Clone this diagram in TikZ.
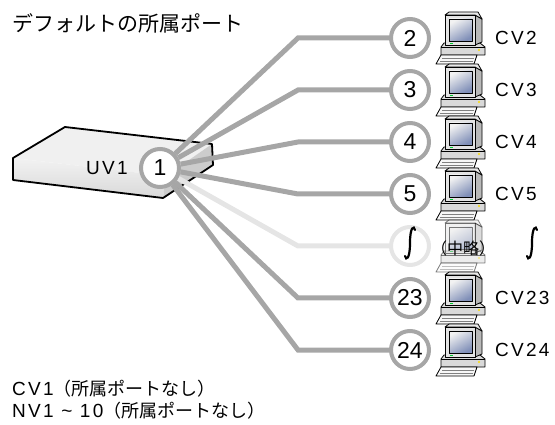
\documentclass[tikz,border=0pt]{standalone}
\usepackage{fontspec}
\setmainfont{Liberation Sans}
\newfontfamily\jpfont{Noto Sans CJK JP}
\newfontfamily\spfont[LetterSpace=12]{Liberation Sans}

\definecolor{porta}{rgb}{0.65,0.65,0.65}
\definecolor{portb}{rgb}{0.9,0.9,0.9}
\definecolor{scrn}{rgb}{0.5,0.56,0.72}

\pgfdeclarelayer{box}
\pgfdeclarelayer{wire}
\pgfsetlayers{box,wire,main}

% computer icon, #2 = row
\newcommand\pcicon[2][]{%
\begin{scope}[shift={(460,#2)}, #1, line width=0.8pt, line join=round]
  \filldraw[fill=gray!30] (-16,5) -- (20,5) -- (25,9) -- (25,17) -- (-19,17) -- (-19,9) -- cycle;
  \draw (-19,9) -- (25,9);
  \fill[yellow!80!orange] (19,12) circle (1.2pt);
  \filldraw[fill=gray!55] (15,-23) -- (22,-19) -- (22,4) -- (15,7) -- cycle;
  \filldraw[fill=gray!18] (-15,-23) -- (-11,-26) -- (18,-26) -- (22,-19) -- (15,-23) -- cycle;
  \filldraw[fill=gray!22] (-15,-23) rectangle (15,7);
  \shade[top color=gray!10, bottom color=scrn, shading angle=30] (-11,-19) rectangle (12,3);
  \draw[line width=0.4pt] (-11,-19) rectangle (12,3);
  \fill[green!60!teal] (-10,5) rectangle (-7,6);
  \filldraw[fill=gray!6] (-19,17) -- (17,17) -- (14,26) -- (-24,26) -- cycle;
  \draw[gray, line width=0.5pt] (-18,20) -- (14,20) (-20,23) -- (13,23);
\end{scope}}

\begin{document}
\begin{tikzpicture}[x=1pt, y=-1pt,
    port/.style={circle, draw=porta, line width=4pt, fill=white, minimum size=38pt, inner sep=0pt, font=\fontsize{23}{23}\selectfont},
    cable/.style={draw=porta, line width=5pt},
    cvlbl/.style={anchor=west, inner sep=0pt, font=\spfont\fontsize{19}{19}\selectfont},
    jptext/.style={anchor=west, inner sep=0pt, font=\fontsize{19}{19}\selectfont},
    wiggle/.style={line width=2.2pt, line cap=round}]
  \useasboundingbox (0,0) rectangle (555,425);

  \node[anchor=west, inner sep=0pt, font=\jpfont\fontsize{21}{21}\selectfont] (ttl) at (12,23) {デフォルトの所属ポート};

  % switch
  \begin{pgfonlayer}{box}
    \fill[gray!12] (13,158) -- (65,127) -- (212,144) -- (166,176) -- cycle;
    \shade[top color=gray!10, bottom color=gray!30] (13,158) -- (166,176) -- (163,198) -- (13,180) -- cycle;
    \fill[gray!40] (166,176) -- (212,144) -- (213,165) -- (163,198) -- cycle;
    \draw[line width=1.8pt, line join=round] (13,158) -- (65,127) -- (212,144) -- (213,165) -- (163,198) -- (13,180) -- cycle;
  \end{pgfonlayer}
  \node[font=\spfont\fontsize{19}{19}\selectfont] (uv1) at (107,168) {UV1};

  \node[port] (p1) at (160,168) {1};
  \node[port] (p2) at (410,38) {2};
  \node[port] (p3) at (410,90) {3};
  \node[port] (p4) at (410,142) {4};
  \node[port] (p5) at (410,194) {5};
  \node[port, draw=portb] (pm) at (410,246) {};
  \node[port] (p23) at (410,298) {23};
  \node[port] (p24) at (410,350) {24};

  \coordinate (b2) at (298,38);
  \coordinate (b3) at (298,90);
  \coordinate (b4) at (298,142);
  \coordinate (b5) at (298,194);
  \coordinate (bm) at (298,246);
  \coordinate (b23) at (298,298);
  \coordinate (b24) at (298,350);

  \begin{pgfonlayer}{wire}
    \draw[cable, draw=portb] (p1) -- (bm) -- (pm);
    \draw[cable] (p1) -- (b2) -- (p2);
    \draw[cable] (p1) -- (b3) -- (p3);
    \draw[cable] (p1) -- (b4) -- (p4);
    \draw[cable] (p1) -- (b5) -- (p5);
    \draw[cable] (p1) -- (b23) -- (p23);
    \draw[cable] (p1) -- (b24) -- (p24);
  \end{pgfonlayer}

  \pcicon{38}
  \pcicon{90}
  \pcicon{142}
  \pcicon{194}
  \pcicon[opacity=0.5]{246}
  \pcicon{298}
  \pcicon{350}

  \node[cvlbl] (cv2) at (495,38) {CV2};
  \node[cvlbl] (cv3) at (495,90) {CV3};
  \node[cvlbl] (cv4) at (495,142) {CV4};
  \node[cvlbl] (cv5) at (495,194) {CV5};
  \node[cvlbl] (cv23) at (495,298) {CV23};
  \node[cvlbl] (cv24) at (495,350) {CV24};

  % omitted rows
  \draw[wiggle] (415,230) .. controls (414,225) and (410,227) .. (410,243) .. controls (410,259) and (406,261) .. (405,256);
  \draw[wiggle] (537,230) .. controls (536,225) and (532,227) .. (532,243) .. controls (532,259) and (528,261) .. (527,256);
  \node[font=\jpfont\fontsize{16}{16}\selectfont] (omit) at (463,248) {（中略）};

  \node[jptext] (nt1) at (12,389) {{\spfont CV1}{\jpfont\fontsize{18}{18}\selectfont （所属ポートなし）}};
  \node[jptext] (nt2) at (12,411) {{\spfont NV1 \textasciitilde{} 10}{\jpfont\fontsize{18}{18}\selectfont （所属ポートなし）}};
\end{tikzpicture}
\end{document}
